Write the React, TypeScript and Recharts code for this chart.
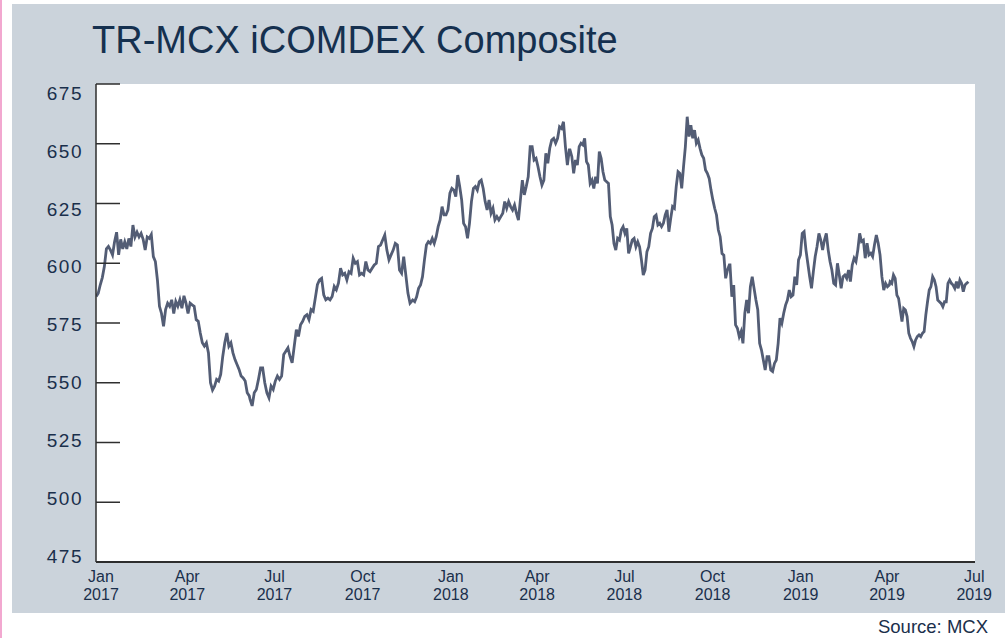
import React from "react";
import { LineChart, Line, XAxis, YAxis, CartesianGrid } from "recharts";

// x values are days counted from 1 Jan 2017
const TICK_DAYS = [0, 90, 181, 273, 365, 455, 546, 638, 730, 820, 911];
const TICK_MONTHS = ["Jan", "Apr", "Jul", "Oct", "Jan", "Apr", "Jul", "Oct", "Jan", "Apr", "Jul"];
const TICK_YEARS = ["2017", "2017", "2017", "2017", "2018", "2018", "2018", "2018", "2019", "2019", "2019"];
const Y_TICKS = [475, 500, 525, 550, 575, 600, 625, 650, 675];

// index readings, Jan 2017 - Jun 2017
const h1_2017 = [
  586.1, 587.5, 591, 594, 598.6, 606, 607, 605.5, 603.5, 609, 613, 603.5, 610, 606, 609, 606, 610.4, 607, 616, 611,
  613, 611, 612.5, 610, 605.5, 611, 610.4, 612, 602.8, 600.7, 593, 582, 579, 573.6, 580.6, 583.3, 582, 584.7, 579, 584,
  582, 584.7, 581.2, 586.4, 583.3, 579, 583.3, 582.6, 582, 576.4, 575.7, 570.8, 566.7, 565.3, 566.7, 562.5, 550, 547,
  548.6, 551.4, 550.7, 553.5, 561, 566.7, 570.8, 565.3, 566.7, 562.5, 559.7, 557.6, 555.6, 552.8, 552, 550.7, 545.8,
  544.5,
];
// Jun 2017 - Nov 2017
const h2_2017 = [
  543, 540.3, 545.8, 547.2, 551.4, 556.2, 556.2, 550, 545.8, 543.7, 548.6, 547.2, 550.7, 552.8, 551.4, 552.8, 561.8,
  563.2, 564.6, 561, 558.3, 565.3, 572.2, 569.4, 574.3, 575.7, 577.8, 578.5, 576.4, 580.6, 579.9, 585.4, 591, 593,
  593.7, 586.8, 584.7, 585.4, 584.7, 586.1, 590.3, 588.9, 591.7, 597.9, 595.1, 595.8, 593, 596.5, 595.8, 602.1, 600,
  600.7, 595.1, 595.8, 595.1, 600.7, 597.2, 596.5, 597.9, 599.3, 600, 607, 607.6, 609.7, 611.8, 605.5, 601.4, 603.5,
  605.5, 608.3, 607.6, 597.2, 595.8, 602.8, 595.1, 587.5, 583.3,
];
// Nov 2017 - May 2018
const h1_2018 = [
  584.6, 583.9, 586, 589.5, 590.9, 594.4, 601.4, 607.6, 609, 608.3, 610.4, 608.3, 611.1, 615.3, 618.1, 623.7, 620.2,
  620.2, 622.3, 629.3, 631.3, 630.6, 627.9, 636.9, 632.1, 626.5, 616.7, 615.3, 610.4, 616.7, 625.8, 631.3, 632.1,
  630.6, 634.1, 634.8, 631.3, 625.8, 622.3, 626.5, 620.9, 623, 618.1, 619.5, 618.1, 619.5, 620.9, 625.8, 623, 625.8,
  623.7, 622.3, 624.4, 620.9, 618.1, 626.5, 634.8, 628.6, 632.1, 636.2, 648.8, 648.8, 643.2, 643.9, 640.4, 636.2,
  632.7, 634.8, 646, 641.8, 648.1, 651.6, 652.3, 650.2, 652.3, 657.1, 656.4, 659.2, 648.8, 641.1, 647.4,
];
// May 2018 - Oct 2018
const h2_2018 = [
  647.4, 644.6, 637.6, 643.2, 641.1, 648.8, 650.2, 649.5, 652.3, 642.5, 641.1, 633.4, 634.8, 631.3, 636.2, 633.4,
  646.7, 643.9, 638.3, 634.8, 634.1, 633.4, 619.5, 616, 608.3, 605.5, 610.4, 609.7, 613.9, 615.3, 612.5, 614.6, 604.1,
  606.9, 609.7, 610.4, 606.9, 609, 606.9, 601.4, 595.1, 597.2, 604.8, 606.9, 612.5, 614.6, 619.5, 620.2, 616, 616.7,
  615.3, 616.7, 620.2, 622.3, 613.2, 618.8, 623.7, 623, 632.1, 638.3, 637.6, 631.3, 640.4, 648.8, 661.3, 653, 657.8,
  652.3, 655.7, 650.2, 651.6, 648.1, 645.3, 643.9, 639, 637.6, 635.5, 630.6, 626.5, 623, 620.2, 613.9, 611.1, 604.1,
  603.4, 593.7, 597.2, 599.3,
];
// Oct 2018 - Apr 2019
const h1_2019 = [
  599.3, 586, 590.9, 574.2, 572.8, 569.3, 571.4, 566.5, 579.1, 584.6, 579.1, 590.2, 594.4, 589.5, 584.6, 580.5, 566.5,
  563.7, 559.5, 555.3, 560.9, 560.9, 555.3, 554.7, 558.1, 559.5, 566.5, 577, 574.9, 579.1, 582.5, 584.6, 588.8, 586,
  586.7, 594.4, 590.9, 601.4, 603.5, 612.5, 613.2, 605.6, 600, 594.4, 589.5, 596.5, 602.8, 607, 612.5, 609.7, 605.6,
  609.7, 612.5, 605.6, 600.7, 597.2, 591.6, 590.9, 600, 595.1, 589.5, 594.4, 595.1, 593.7, 597.2, 592.3, 599.3, 602.1,
  600.7, 605.6, 612.5, 609.1, 609.7, 602.1, 608.4, 603.5, 604.2, 602.8, 607.7, 611.8, 608.4, 603.5, 594.4, 588.8,
  591.6, 590.2, 590.9,
];
// Apr 2019 - Jun 2019
const q2_2019 = [
  592.3, 591.6, 595.1, 593.7, 586.7, 585.3, 580.4, 575.6, 581.1, 580.4, 577.7, 570.7, 568.6, 567.2, 565.1, 567.9,
  569.3, 570, 569.3, 570.7, 571.4, 578.4, 583.9, 588.8, 590.2, 594.4, 593, 590.2, 584.6, 583.9, 583.2, 581.8, 583.9,
  583.9, 591.6, 593, 591.6, 590.9, 589.5, 592.3, 589.5, 593, 591.6, 588.1, 590.9, 591.6, 592.3,
];

// first and last day covered by each block above
const BLOCK_DAYS: [number, number][] = [
  [-5, 154.7],
  [155.5, 322.4],
  [325.2, 488.6],
  [489.3, 655.5],
  [656.2, 822.4],
  [823.2, 904.9],
];
const BLOCKS = [h1_2017, h2_2017, h1_2018, h2_2018, h1_2019, q2_2019];

const data = BLOCKS.flatMap((vals, b) => {
  const [d0, d1] = BLOCK_DAYS[b];
  return vals.map((v, i) => ({ day: d0 + ((d1 - d0) * i) / (vals.length - 1), value: v }));
});

const FONT = "'Liberation Sans', Arial, sans-serif";
const TEXT = "#1a2f4b";
const AXIS = "#2e2e2e";

function YTick(props: any) {
  const { x, y, payload } = props;
  const v = payload.value as number;
  const shift = 9 - ((675 - v) / 25) * 1.9;
  return (
    <g>
      <line x1={x} x2={x + 24} y1={y} y2={y} stroke={AXIS} strokeWidth={1.5} />
      <text x={x - 13} y={y + shift + 6.8} textAnchor="end" fontSize={19} fill={TEXT} fontFamily={FONT} letterSpacing={1.5}>
        {v}
      </text>
    </g>
  );
}

function XTick(props: any) {
  const { x, y, index } = props;
  return (
    <text textAnchor="middle" fontSize={16} fill={TEXT} fontFamily={FONT}>
      <tspan x={x} y={y + 20}>{TICK_MONTHS[index]}</tspan>
      <tspan x={x} y={y + 38}>{TICK_YEARS[index]}</tspan>
    </text>
  );
}

export default function App() {
  return (
    <div style={{ position: "fixed", left: 0, top: 0, width: 1005, height: 638, background: "#fff", overflow: "hidden" }}>
      <div style={{ position: "absolute", left: 0, top: 0, width: 2, height: 638, background: "#f2a8d0" }} />
      <div style={{ position: "absolute", left: 12, top: 4, width: 993, height: 609, background: "#cbd3db" }} />
      <div style={{ position: "absolute", left: 0, top: 0 }}>
        <LineChart width={1005} height={613} data={data} margin={{ top: 84, right: 30, bottom: 0, left: 95 }}>
          <CartesianGrid fill="#ffffff" stroke="none" horizontal={false} vertical={false} />
          <XAxis
            type="number"
            dataKey="day"
            domain={[-5.2, 911.8]}
            allowDataOverflow
            ticks={TICK_DAYS}
            interval={0}
            height={51}
            tickSize={0}
            tickMargin={0}
            tickLine={false}
            axisLine={{ stroke: AXIS, strokeWidth: 2 }}
            tick={<XTick />}
          />
          <YAxis
            type="number"
            domain={[475, 675]}
            ticks={Y_TICKS}
            interval={0}
            width={1}
            tickSize={0}
            tickMargin={0}
            tickLine={false}
            axisLine={{ stroke: AXIS, strokeWidth: 1.5 }}
            tick={<YTick />}
          />
          <Line
            type="linear"
            dataKey="value"
            stroke="#535d75"
            strokeWidth={2.8}
            dot={false}
            isAnimationActive={false}
          />
        </LineChart>
      </div>
      <svg style={{ position: "absolute", left: 0, top: 0 }} width={1005} height={638}>
        <text x={92} y={53} fontSize={38} fill="#15304f" fontFamily={FONT}>
          TR-MCX iCOMDEX Composite
        </text>
        <text x={988} y={633} fontSize={18.5} fill={TEXT} fontFamily={FONT} textAnchor="end">
          Source: MCX
        </text>
      </svg>
    </div>
  );
}
